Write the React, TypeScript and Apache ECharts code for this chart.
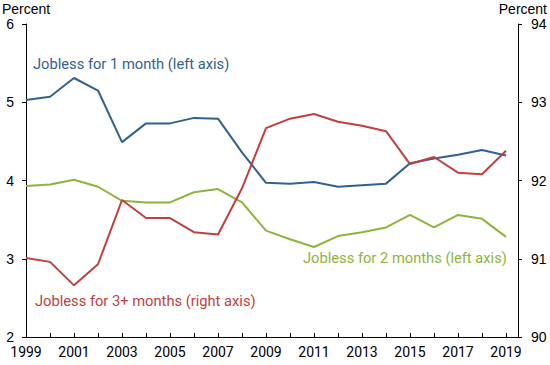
import React, { useEffect, useRef } from "react";
import * as echarts from "echarts";

const years = [1999, 2000, 2001, 2002, 2003, 2004, 2005, 2006, 2007, 2008, 2009, 2010, 2011, 2012, 2013, 2014, 2015, 2016, 2017, 2018, 2019];
const oneMonth = [5.03, 5.07, 5.31, 5.15, 4.49, 4.73, 4.73, 4.8, 4.79, 4.36, 3.97, 3.96, 3.98, 3.92, 3.94, 3.96, 4.22, 4.28, 4.33, 4.39, 4.32];
const twoMonths = [3.93, 3.95, 4.01, 3.92, 3.74, 3.72, 3.72, 3.85, 3.89, 3.72, 3.36, 3.25, 3.15, 3.29, 3.34, 3.4, 3.56, 3.4, 3.56, 3.51, 3.28];
const threePlus = [91.01, 90.96, 90.66, 90.93, 91.75, 91.52, 91.52, 91.34, 91.31, 91.9, 92.67, 92.79, 92.85, 92.75, 92.7, 92.63, 92.21, 92.3, 92.1, 92.08, 92.38];

const BLUE = "#30618f";
const GREEN = "#8db43d";
const RED = "#c04040";
const AXIS_FONT = "'Liberation Sans', Arial, sans-serif";
const TEXT_FONT = "Roboto, 'Liberation Sans', sans-serif";

export default function App() {
  const ref = useRef<HTMLDivElement>(null);
  useEffect(() => {
    const chart = echarts.init(ref.current!, null, { renderer: "svg" });
    const pair = (vals: number[]) => years.map((y, i) => [y, vals[i]]);
    chart.setOption({
      animation: false,
      grid: { left: 26, right: 32, top: 24, bottom: 28, containLabel: false },
      xAxis: {
        type: "value",
        min: 1999,
        max: 2019.5,
        interval: 1,
        axisLine: { lineStyle: { color: "#000", width: 1 } },
        axisTick: { inside: true, length: 4, lineStyle: { color: "#000" } },
        splitLine: { show: false },
        axisLabel: {
          margin: 8,
          fontSize: 14,
          color: "#000",
          fontFamily: TEXT_FONT,
          formatter: (v: number) => (Number.isInteger(v) && v % 2 === 1 ? String(v) : ""),
        },
      },
      yAxis: [
        {
          type: "value",
          min: 2,
          max: 6,
          interval: 1,
          position: "left",
          axisLine: { show: true, lineStyle: { color: "#000", width: 1 } },
          axisTick: { show: true, length: 4, lineStyle: { color: "#000" } },
          splitLine: { show: false },
          axisLabel: { margin: 12, fontSize: 14, color: "#000", fontFamily: AXIS_FONT },
        },
        {
          type: "value",
          min: 90,
          max: 94,
          interval: 1,
          position: "right",
          axisLine: { show: true, lineStyle: { color: "#000", width: 1 } },
          axisTick: { show: true, length: 4, lineStyle: { color: "#000" } },
          splitLine: { show: false },
          axisLabel: { margin: 13, fontSize: 14, color: "#000", fontFamily: AXIS_FONT },
        },
      ],
      series: [
        { type: "line", name: "Jobless for 1 month", data: pair(oneMonth), yAxisIndex: 0, showSymbol: false, lineStyle: { color: BLUE, width: 2 }, itemStyle: { color: BLUE } },
        { type: "line", name: "Jobless for 2 months", data: pair(twoMonths), yAxisIndex: 0, showSymbol: false, lineStyle: { color: GREEN, width: 2 }, itemStyle: { color: GREEN } },
        { type: "line", name: "Jobless for 3+ months", data: pair(threePlus), yAxisIndex: 1, showSymbol: false, lineStyle: { color: RED, width: 2 }, itemStyle: { color: RED } },
      ],
      graphic: [
        { type: "text", left: 2, top: 2, style: { text: "Percent", fontSize: 14, fill: "#000", fontFamily: AXIS_FONT } },
        { type: "text", right: 3, top: 2, style: { text: "Percent", fontSize: 14, fill: "#000", fontFamily: AXIS_FONT } },
        { type: "text", left: 33, top: 56, style: { text: "Jobless for 1 month (left axis)", fontSize: 14.7, fill: BLUE, fontFamily: TEXT_FONT } },
        { type: "text", left: 303, top: 250, style: { text: "Jobless for 2 months (left axis)", fontSize: 14.7, fill: GREEN, fontFamily: TEXT_FONT } },
        { type: "text", left: 35, top: 293, style: { text: "Jobless for 3+ months (right axis)", fontSize: 14.7, fill: RED, fontFamily: TEXT_FONT } },
      ],
    });
    return () => chart.dispose();
  }, []);
  return <div ref={ref} style={{ width: 550, height: 365, position: "absolute", left: 0, top: 0 }} />;
}
